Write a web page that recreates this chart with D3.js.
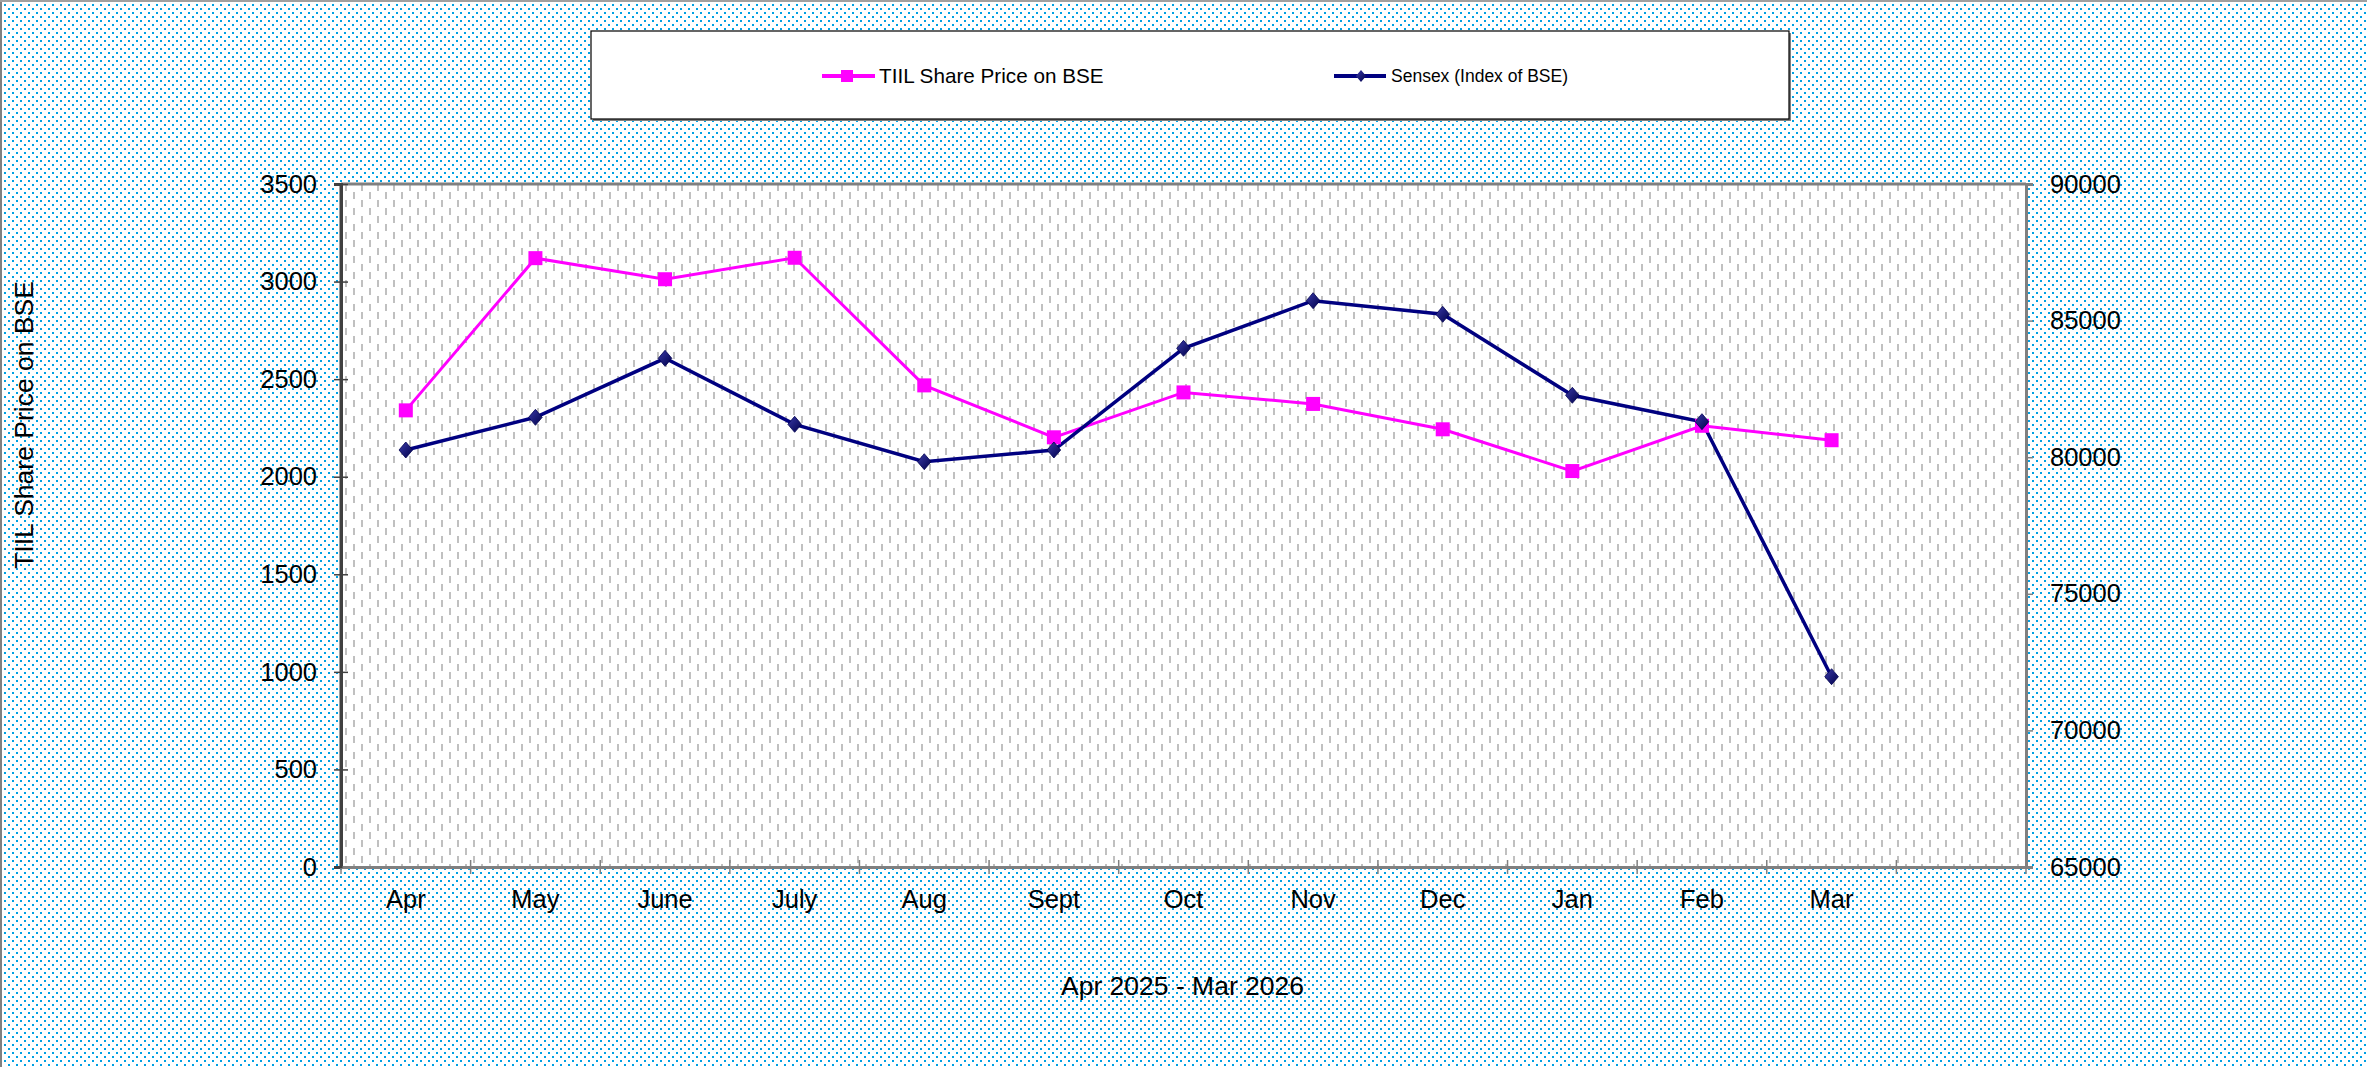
<!DOCTYPE html>
<html>
<head>
<meta charset="utf-8">
<script src="https://cdn.jsdelivr.net/npm/d3@7"></script>
<style>
  html, body { margin: 0; padding: 0; background: #fff; }
  svg { display: block; font-family: "Liberation Sans", Arial, sans-serif; }
</style>
</head>
<body>
<svg id="chart" width="2367" height="1067"></svg>
<script>
// ---- data ----
const categories = ["Apr", "May", "June", "July", "Aug", "Sept", "Oct", "Nov", "Dec", "Jan", "Feb", "Mar", ""];
const tiilPrice = [2340, 3120, 3012, 3122, 2468, 2202, 2432, 2373, 2243, 2029, 2261, 2187];
const sensex = [80263, 81460, 83620, 81204, 79835, 80263, 83986, 85728, 85230, 82266, 81300, 71966];
const leftTicks = [0, 500, 1000, 1500, 2000, 2500, 3000, 3500];
const rightTicks = [65000, 70000, 75000, 80000, 85000, 90000];
const seriesNames = ["TIIL Share Price on BSE", "Sensex (Index of BSE)"];
const xTitle = "Apr 2025 - Mar 2026";
const yTitle = "TIIL Share Price on BSE";

// ---- layout ----
const W = 2367, H = 1067;
const pl = 341, pr = 2026, pt = 184, pb = 867;
const magenta = "#ff00ff", navy = "#000080";

const svg = d3.select("#chart");
const defs = svg.append("defs");

// background dotted pattern
const bgPat = defs.append("pattern").attr("id", "dots").attr("patternUnits", "userSpaceOnUse")
  .attr("width", 8).attr("height", 8);
bgPat.append("rect").attr("width", 8).attr("height", 8).attr("fill", "#ffffff");
bgPat.append("rect").attr("x", 0).attr("y", 0).attr("width", 2).attr("height", 2).attr("fill", "#00a0e3");
bgPat.append("rect").attr("x", 4).attr("y", 4).attr("width", 2).attr("height", 2).attr("fill", "#00a0e3");

// plot area dashed vertical pattern
const plPat = defs.append("pattern").attr("id", "dashes").attr("patternUnits", "userSpaceOnUse")
  .attr("width", 16).attr("height", 16).attr("x", pl + 4).attr("y", pt);
plPat.append("rect").attr("width", 16).attr("height", 16).attr("fill", "#ffffff");
plPat.append("rect").attr("x", 0).attr("y", 0).attr("width", 2).attr("height", 7).attr("fill", "#c0c0c0");
plPat.append("rect").attr("x", 8).attr("y", 8).attr("width", 2).attr("height", 7).attr("fill", "#c0c0c0");

// diamond gradient
const grad = defs.append("linearGradient").attr("id", "dgrad").attr("x1", 0).attr("y1", 0).attr("x2", 1).attr("y2", 1);
grad.append("stop").attr("offset", "0%").attr("stop-color", "#3a3aa8");
grad.append("stop").attr("offset", "100%").attr("stop-color", "#00004a");

// background
svg.append("rect").attr("width", W).attr("height", H).attr("fill", "url(#dots)");
svg.append("line").attr("x1", 1).attr("x2", 1).attr("y1", 0).attr("y2", H)
  .attr("stroke", "#808080").attr("stroke-width", 2);
svg.append("line").attr("x1", 0).attr("x2", W).attr("y1", 1).attr("y2", 1)
  .attr("stroke", "#a0a0a0").attr("stroke-width", 2);

// plot area
svg.append("rect").attr("x", pl).attr("y", pt).attr("width", pr - pl).attr("height", pb - pt)
  .attr("fill", "url(#dashes)");

// scales
const x = d3.scaleBand().domain(categories).range([pl, pr]).padding(0);
const yL = d3.scaleLinear().domain([0, 3500]).range([pb, pt]);
const yR = d3.scaleLinear().domain([65000, 90000]).range([pb, pt]);
const cx = (i) => x(categories[i]) + x.bandwidth() / 2;

// plot border top
svg.append("line").attr("x1", pl).attr("x2", pr).attr("y1", pt).attr("y2", pt)
  .attr("stroke", "#808080").attr("stroke-width", 3);

// left axis
const gL = svg.append("g").attr("transform", `translate(${pl},0)`)
  .call(d3.axisLeft(yL).tickValues(leftTicks).tickSize(7).tickPadding(17).tickFormat(d3.format("d")));
gL.select(".domain").attr("stroke", "#404040").attr("stroke-width", 3);
gL.selectAll(".tick line").attr("x1", 7).attr("x2", -7).attr("stroke", "#404040").attr("stroke-width", 1.5);
gL.selectAll(".tick text").attr("font-size", 25.5).attr("fill", "#000")
  .attr("font-family", "Liberation Sans, Arial, sans-serif");

// right axis
const gR = svg.append("g").attr("transform", `translate(${pr},0)`)
  .call(d3.axisRight(yR).tickValues(rightTicks).tickSize(7).tickPadding(17).tickFormat(d3.format("d")));
gR.select(".domain").attr("stroke", "#808080").attr("stroke-width", 3);
gR.selectAll(".tick line").attr("stroke", "#808080").attr("stroke-width", 1.5);
gR.selectAll(".tick text").attr("font-size", 25.5).attr("fill", "#000")
  .attr("font-family", "Liberation Sans, Arial, sans-serif");

// bottom axis (labels at band centers, ticks at band boundaries)
const gB = svg.append("g").attr("transform", `translate(0,${pb})`)
  .call(d3.axisBottom(x).tickSize(0).tickPadding(23));
gB.select(".domain").attr("stroke", "#808080").attr("stroke-width", 3);
gB.selectAll(".tick text").attr("font-size", 25.5).attr("fill", "#000")
  .attr("font-family", "Liberation Sans, Arial, sans-serif");
const bounds = categories.map(c => x(c)).concat([x(categories[categories.length - 1]) + x.bandwidth()]);
gB.selectAll(".btick").data(bounds).enter().append("line").attr("class", "btick")
  .attr("x1", d => d).attr("x2", d => d).attr("y1", -7).attr("y2", 7)
  .attr("stroke", "#808080").attr("stroke-width", 1.5);

// redraw left axis domain on top
svg.append("line").attr("x1", pl).attr("x2", pl).attr("y1", pt - 1).attr("y2", pb + 1)
  .attr("stroke", "#404040").attr("stroke-width", 3);

// lines
const lineL = d3.line().x((d, i) => cx(i)).y(d => yL(d));
const lineR = d3.line().x((d, i) => cx(i)).y(d => yR(d));

svg.append("path").datum(tiilPrice).attr("d", lineL).attr("fill", "none")
  .attr("stroke", magenta).attr("stroke-width", 3);
svg.append("path").datum(sensex).attr("d", lineR).attr("fill", "none")
  .attr("stroke", navy).attr("stroke-width", 3.5);

// markers
const sq = 14;
svg.selectAll(".sq").data(tiilPrice).enter().append("rect").attr("class", "sq")
  .attr("x", (d, i) => cx(i) - sq / 2).attr("y", d => yL(d) - sq / 2)
  .attr("width", sq).attr("height", sq).attr("fill", magenta);

const diamond = (s) => `M0,${-s} L${s * 0.85},0 L0,${s} L${-s * 0.85},0 Z`;
svg.selectAll(".dm").data(sensex).enter().append("path").attr("class", "dm")
  .attr("transform", (d, i) => `translate(${cx(i)},${yR(d)})`)
  .attr("d", diamond(8)).attr("fill", "url(#dgrad)").attr("stroke", "#000050").attr("stroke-width", 0.8);

// axis titles
svg.append("text").attr("x", (pl + pr) / 2 - 1).attr("y", 995).attr("text-anchor", "middle")
  .attr("font-size", 26.5).attr("fill", "#000").text(xTitle);
svg.append("text").attr("transform", "translate(33,425) rotate(-90)").attr("text-anchor", "middle")
  .attr("font-size", 26.5).attr("fill", "#000").text(yTitle);

// legend
const lg = svg.append("g");
lg.append("rect").attr("x", 593).attr("y", 33).attr("width", 1198).attr("height", 88).attr("fill", "#808080");
lg.append("rect").attr("x", 591).attr("y", 31).attr("width", 1198).attr("height", 88)
  .attr("fill", "#ffffff").attr("stroke", "#000").attr("stroke-width", 1.2);
const ly = 76;
lg.append("line").attr("x1", 822).attr("x2", 875).attr("y1", ly).attr("y2", ly)
  .attr("stroke", magenta).attr("stroke-width", 4);
lg.append("rect").attr("x", 847 - 6).attr("y", ly - 6).attr("width", 12).attr("height", 12).attr("fill", magenta);
lg.append("text").attr("x", 879).attr("y", ly + 7).attr("font-size", 20.7).attr("fill", "#000").text(seriesNames[0]);
lg.append("line").attr("x1", 1334).attr("x2", 1386).attr("y1", ly).attr("y2", ly)
  .attr("stroke", navy).attr("stroke-width", 4);
lg.append("path").attr("transform", `translate(1361,${ly})`).attr("d", diamond(6)).attr("fill", "url(#dgrad)");
lg.append("text").attr("x", 1391).attr("y", ly + 6).attr("font-size", 17.5).attr("fill", "#000").text(seriesNames[1]);
</script>
</body>
</html>
